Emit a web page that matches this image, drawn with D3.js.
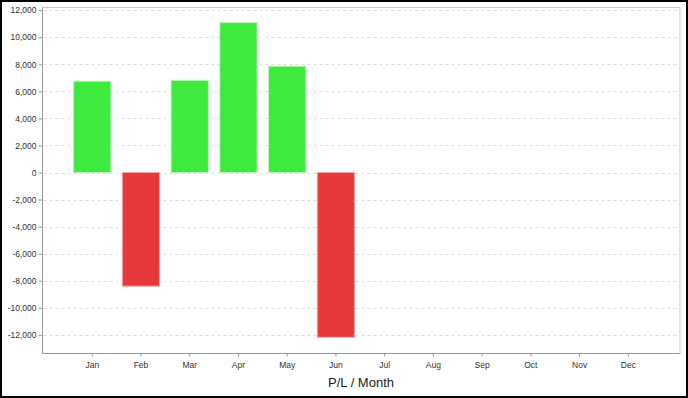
<!DOCTYPE html>
<html>
<head>
<meta charset="utf-8">
<script src="https://cdn.jsdelivr.net/npm/d3@7"></script>
<style>
  body { margin: 0; background: #fff; }
  svg { display: block; font-family: "Liberation Sans", Arial, sans-serif; }
</style>
</head>
<body>
<svg id="chart" width="688" height="398"></svg>
<script>
// monthly P/L values
var months = ["Jan", "Feb", "Mar", "Apr", "May", "Jun", "Jul", "Aug", "Sep", "Oct", "Nov", "Dec"];
var profit = [6750, -8400, 6820, 11080, 7860, -12180, null, null, null, null, null, null];
var yTicks = [-12000, -10000, -8000, -6000, -4000, -2000, 0, 2000, 4000, 6000, 8000, 10000, 12000];
var axisTitle = "P/L / Month";

var svg = d3.select("#chart");
var W = 688, H = 398;
var plot = {left: 42.5, top: 7.5, right: 680, bottom: 353.5};

// outer frame
svg.append("rect")
  .attr("x", 1).attr("y", 1)
  .attr("width", W - 2).attr("height", H - 2)
  .attr("fill", "#fff")
  .attr("stroke", "#000")
  .attr("stroke-width", 2);

var x = d3.scaleBand()
  .domain(months)
  .range([67.9, 652.7])
  .paddingInner(0.235)
  .paddingOuter(0.1175);

var y = d3.scaleLinear()
  .domain([-13380, 12200])
  .range([plot.bottom, plot.top]);

var g = svg.append("g");

// plot border
g.append("rect")
  .attr("x", plot.left).attr("y", plot.top)
  .attr("width", plot.right - plot.left).attr("height", plot.bottom - plot.top)
  .attr("fill", "none")
  .attr("stroke", "#c8c8c8")
  .attr("stroke-width", 1);

// grid
g.selectAll(".grid")
  .data(yTicks)
  .enter().append("line")
  .attr("x1", plot.left + 1).attr("x2", plot.right)
  .attr("y1", d => Math.round(y(d)) + 0.5)
  .attr("y2", d => Math.round(y(d)) + 0.5)
  .attr("stroke", "#dcdcdc")
  .attr("stroke-dasharray", "3,3");

// bars
var bars = months.map((m, i) => ({month: m, value: profit[i]})).filter(d => d.value !== null);
g.selectAll(".bar")
  .data(bars)
  .enter().append("rect")
  .attr("x", d => x(d.month))
  .attr("width", x.bandwidth())
  .attr("y", d => y(Math.max(0, d.value)))
  .attr("height", d => Math.abs(y(d.value) - y(0)))
  .attr("fill", d => d.value >= 0 ? "#3eea3d" : "#e8383d")
  .attr("stroke", d => d.value >= 0 ? "#b9f5b8" : "#f3a3a5")
  .attr("stroke-width", 1);

// y axis
var fmt = d3.format(",");
var yAxis = d3.axisLeft(y)
  .tickValues(yTicks)
  .tickFormat(d => fmt(d).replace("\u2212", "-"))
  .tickSize(4)
  .tickSizeOuter(0);
var ya = g.append("g")
  .attr("transform", `translate(${plot.left},0)`)
  .call(yAxis);
ya.select(".domain").attr("stroke", "#999").attr("d", `M0,${plot.top}V${plot.bottom}`);
ya.selectAll(".tick line").attr("stroke", "#999");
ya.selectAll(".tick text")
  .attr("x", -6)
  .attr("fill", "#333")
  .style("font-size", "8.5px");

// x axis
var xAxis = d3.axisBottom(x).tickSize(3).tickSizeOuter(0);
var xa = g.append("g")
  .attr("transform", `translate(0,${plot.bottom})`)
  .call(xAxis);
xa.select(".domain").attr("stroke", "#999").attr("d", `M${plot.left},0H${plot.right}`);
xa.selectAll(".tick line").attr("stroke", "#999");
xa.selectAll(".tick text")
  .attr("y", 8)
  .attr("fill", "#333")
  .style("font-size", "8.5px");

svg.append("text")
  .attr("x", 361)
  .attr("y", 387)
  .attr("text-anchor", "middle")
  .attr("fill", "#222")
  .style("font-size", "13px")
  .text(axisTitle);
</script>
</body>
</html>
